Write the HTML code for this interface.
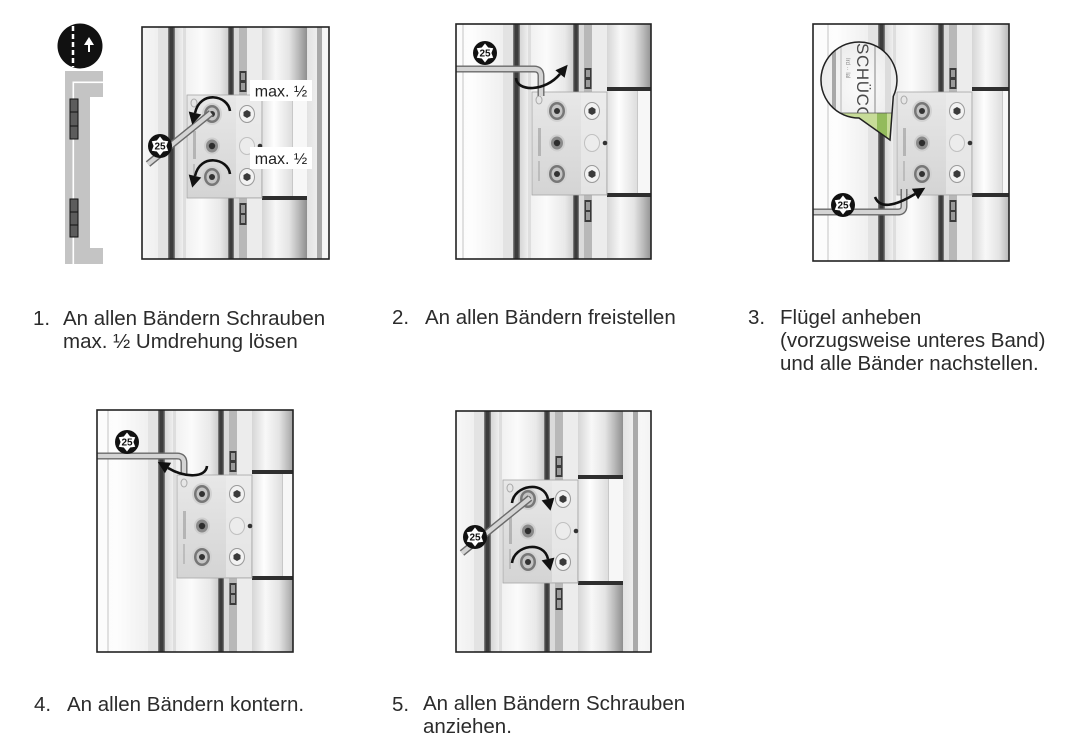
<!DOCTYPE html>
<html><head><meta charset="utf-8">
<style>
html,body{margin:0;padding:0;background:#fff;}
body{width:1081px;height:741px;position:relative;overflow:hidden;}
svg{position:absolute;left:0;top:0;}
.t{position:absolute;font-family:"Liberation Sans",Arial,sans-serif;font-size:20.5px;line-height:23px;color:#2b2b2b;white-space:nowrap;}
</style></head><body>
<svg width="1081" height="741" viewBox="0 0 1081 741" xmlns="http://www.w3.org/2000/svg">
<defs>
 <linearGradient id="gLeft" x1="0" y1="0" x2="1" y2="0"><stop offset="0" stop-color="#f9f9f9"/><stop offset="0.6" stop-color="#fdfdfd"/><stop offset="1" stop-color="#ebebeb"/></linearGradient>
 <linearGradient id="gDark" x1="0" y1="0" x2="1" y2="0"><stop offset="0" stop-color="#8a8a8a"/><stop offset="0.3" stop-color="#3c3c3c"/><stop offset="0.7" stop-color="#3c3c3c"/><stop offset="1" stop-color="#888"/></linearGradient>
 <linearGradient id="gProf" x1="0" y1="0" x2="1" y2="0"><stop offset="0" stop-color="#d6d6d6"/><stop offset="0.15" stop-color="#efefef"/><stop offset="0.5" stop-color="#fbfbfb"/><stop offset="0.85" stop-color="#e9e9e9"/><stop offset="1" stop-color="#cecece"/></linearGradient>
 <linearGradient id="gBar" x1="0" y1="0" x2="1" y2="0"><stop offset="0" stop-color="#d6d6d6"/><stop offset="0.3" stop-color="#f8f8f8"/><stop offset="0.6" stop-color="#e4e4e4"/><stop offset="0.8" stop-color="#bcbcbc"/><stop offset="1" stop-color="#8e8e8e"/></linearGradient>
 <linearGradient id="gBar2" x1="0" y1="0" x2="1" y2="0"><stop offset="0" stop-color="#e0e0e0"/><stop offset="0.4" stop-color="#fefefe"/><stop offset="1" stop-color="#dedede"/></linearGradient>
 <linearGradient id="gRight" x1="0" y1="0" x2="1" y2="0"><stop offset="0" stop-color="#e2e2e2"/><stop offset="0.3" stop-color="#f7f7f7"/><stop offset="1" stop-color="#e6e6e6"/></linearGradient>
 <linearGradient id="gPlate" x1="0" y1="0" x2="0" y2="1"><stop offset="0" stop-color="#e8e8e8"/><stop offset="1" stop-color="#d4d4d4"/></linearGradient>
 <radialGradient id="gMag" cx="0.5" cy="0.45" r="0.6"><stop offset="0" stop-color="#fbfbfb"/><stop offset="1" stop-color="#e6e6e6"/></radialGradient>
 <clipPath id="c1"><rect x="142" y="27" width="187" height="232"/></clipPath>
 <clipPath id="c2"><rect x="456" y="24" width="195" height="235"/></clipPath>
 <clipPath id="c3"><rect x="813" y="24" width="196" height="237"/></clipPath>
 <clipPath id="c4"><rect x="97" y="410" width="196" height="242"/></clipPath>
 <clipPath id="c5"><rect x="456" y="411" width="195" height="241"/></clipPath>
 <clipPath id="cMag"><path d="M 859,118 L 890,140 L 893.3,96.3 A 38 38 0 1 0 859,118 Z"/></clipPath>
 <g id="hinge">
  <rect x="-45" y="-10" width="300" height="265" fill="#f2f2f2"/>
  <rect x="-45" y="-10" width="102" height="265" fill="url(#gLeft)"/>
  <rect x="-30" y="-10" width="2" height="265" fill="#dcdcdc"/>
  <rect x="6" y="-10" width="2" height="265" fill="#e0e0e0"/>
  <rect x="47" y="-10" width="10" height="265" fill="#e3e3e3"/>
  <rect x="57" y="-10" width="7" height="265" fill="url(#gDark)"/>
  <rect x="64" y="-10" width="53" height="265" fill="url(#gProf)"/>
  <rect x="72" y="-10" width="3" height="265" fill="#dedede"/>
  <rect x="117" y="-10" width="6" height="265" fill="url(#gDark)"/>
  <rect x="123" y="-10" width="5" height="265" fill="#dadada"/>
  <rect x="128" y="-10" width="8" height="265" fill="#b8b8b8"/>
  <rect x="128.5" y="44" width="7" height="21" fill="#3a3a3a"/>
  <rect x="130" y="46" width="4" height="7" fill="#9a9a9a"/>
  <rect x="130" y="56" width="4" height="7" fill="#9a9a9a"/>
  <rect x="128.5" y="176" width="7" height="22" fill="#3a3a3a"/>
  <rect x="130" y="178" width="4" height="8" fill="#9a9a9a"/>
  <rect x="130" y="188" width="4" height="8" fill="#9a9a9a"/>
  <rect x="136" y="-10" width="15" height="265" fill="#ececec"/>
  <rect x="151" y="-10" width="45" height="73" fill="url(#gBar)"/>
  <rect x="151" y="173" width="45" height="82" fill="url(#gBar)"/>
  <rect x="151" y="67" width="30" height="102" fill="url(#gBar2)"/>
  <rect x="181" y="67" width="15" height="102" fill="#f7f7f7"/>
  <rect x="181" y="67" width="1" height="102" fill="#c8c8c8"/>
  <rect x="151" y="63" width="45" height="4" fill="#2e2e2e"/>
  <rect x="151" y="169" width="45" height="4" fill="#2e2e2e"/>
  <rect x="196" y="-10" width="60" height="265" fill="url(#gRight)"/>
  <rect x="206" y="-10" width="5" height="265" fill="#a9a9a9"/>
  <rect x="76" y="68" width="75" height="103" fill="url(#gPlate)" stroke="#a5a5a5" stroke-width="0.8"/>
  <rect x="125" y="69" width="25" height="101" fill="#efefef" opacity="0.6"/>
  <rect x="82" y="104" width="3" height="28" fill="#9a9a9a" opacity="0.6"/>
  <rect x="82" y="137" width="2" height="20" fill="#aaa" opacity="0.6"/>
  <ellipse cx="83" cy="76" rx="3" ry="4" fill="none" stroke="#aaa" stroke-width="1"/>
  <g transform="translate(101,87)"><ellipse rx="10" ry="11" fill="#d2d2d2"/><ellipse rx="8" ry="9" fill="#777"/><ellipse rx="5.5" ry="6.5" fill="#c4c4c4"/><circle r="3" fill="#333"/></g>
  <g transform="translate(101,119)"><ellipse rx="8" ry="8.5" fill="#cfcfcf"/><ellipse rx="6" ry="6.5" fill="#8a8a8a"/><circle r="3.2" fill="#2e2e2e"/></g>
  <g transform="translate(101,150)"><ellipse rx="10" ry="11" fill="#d2d2d2"/><ellipse rx="8" ry="9" fill="#777"/><ellipse rx="5.5" ry="6.5" fill="#c4c4c4"/><circle r="3" fill="#333"/></g>
  <g transform="translate(136,87)"><ellipse rx="7.5" ry="8.5" fill="#f2f2f2" stroke="#9a9a9a" stroke-width="1"/><polygon points="0,-4 3.5,-2 3.5,2 0,4 -3.5,2 -3.5,-2" fill="#3a3a3a"/></g>
  <g transform="translate(136,119)"><ellipse rx="7.5" ry="8.5" fill="#ececec" stroke="#c0c0c0" stroke-width="1"/></g>
  <g transform="translate(136,150)"><ellipse rx="7.5" ry="8.5" fill="#f2f2f2" stroke="#9a9a9a" stroke-width="1"/><polygon points="0,-4 3.5,-2 3.5,2 0,4 -3.5,2 -3.5,-2" fill="#3a3a3a"/></g>
  <circle cx="149" cy="119" r="2.3" fill="#333"/>
 </g>
 <g id="badge"><circle r="12" fill="#111"/><polygon points="0,-9.5 3.2,-5.5 8.23,-4.75 6.4,0 8.23,4.75 3.2,5.5 0,9.5 -3.2,5.5 -8.23,4.75 -6.4,0 -8.23,-4.75 -3.2,-5.5" fill="#fff"/></g>
</defs>

<!-- Left strip icon -->
<circle cx="80" cy="46" r="22.5" fill="#111"/>
<line x1="73" y1="26" x2="73" y2="67" stroke="#fff" stroke-width="2.5" stroke-dasharray="5,3"/>
<polygon points="89,37 84,45 94,45" fill="#fff"/>
<rect x="88" y="44" width="2" height="8" fill="#fff"/>
<rect x="65" y="71" width="38" height="193" fill="#c4c4c4"/>
<rect x="90" y="97" width="13" height="151" fill="#fff"/>
<rect x="72.5" y="81.5" width="1.6" height="183" fill="#fff"/>
<rect x="72.5" y="81.5" width="30.5" height="1.6" fill="#fff"/>
<g fill="#5c5c5c" stroke="#111" stroke-width="1">
 <rect x="70" y="99" width="8" height="40"/>
 <rect x="70" y="199" width="8" height="38"/>
</g>
<g stroke="#111" stroke-width="1">
 <line x1="70" y1="112" x2="78" y2="112"/><line x1="70" y1="126" x2="78" y2="126"/>
 <line x1="70" y1="212" x2="78" y2="212"/><line x1="70" y1="225" x2="78" y2="225"/>
</g>

<!-- Panel 1 -->
<g clip-path="url(#c1)">
 <use href="#hinge" transform="translate(111,27)"/>
 <path d="M 148,164 L 211,113" fill="none" stroke="#6a6a6a" stroke-width="7"/>
 <path d="M 148,164 L 211,113" fill="none" stroke="#d4d4d4" stroke-width="4.2"/>
 <use href="#badge" transform="translate(160,146)"/>
 <text x="160" y="149.6" text-anchor="middle" font-size="10" font-weight="bold" fill="#111" font-family="Liberation Sans, Arial, sans-serif">25</text>
 <path d="M 230,111 C 228,95 200,90 195,113" fill="none" stroke="#111" stroke-width="2.6"/>
 <polygon points="192.2,124.6 201.3,114.5 188.7,111.5" fill="#111"/>
 <path d="M 230,174 C 228,158 200,153 195,176" fill="none" stroke="#111" stroke-width="2.6"/>
 <polygon points="192.2,187.6 201.3,177.5 188.7,174.5" fill="#111"/>
 <rect x="250" y="80" width="62" height="21" fill="#fff"/>
 <text x="281" y="96.5" text-anchor="middle" font-size="16" fill="#222" font-family="Liberation Sans, Arial, sans-serif">max. ½</text>
 <rect x="250" y="147" width="62" height="22" fill="#fff"/>
 <text x="281" y="164" text-anchor="middle" font-size="16" fill="#222" font-family="Liberation Sans, Arial, sans-serif">max. ½</text>
</g>
<rect x="142" y="27" width="187" height="232" fill="none" stroke="#222" stroke-width="1.6"/>

<!-- Panel 2 -->
<g clip-path="url(#c2)">
 <use href="#hinge" transform="translate(456,24)"/>
 <path d="M 456,69 H 534 Q 541,69 541,76 V 96" fill="none" stroke="#6a6a6a" stroke-width="7"/>
 <path d="M 456,69 H 534 Q 541,69 541,76 V 96" fill="none" stroke="#d4d4d4" stroke-width="4.2"/>
 <use href="#badge" transform="translate(485,53)"/>
 <text x="485" y="56.6" text-anchor="middle" font-size="10" font-weight="bold" fill="#111" font-family="Liberation Sans, Arial, sans-serif">25</text>
 <path d="M 516,78 C 517,92 545,92 560,74" fill="none" stroke="#111" stroke-width="2.6"/>
 <polygon points="567.7,64.8 564.6,77.8 555.4,70.2" fill="#111"/>
</g>
<rect x="456" y="24" width="195" height="235" fill="none" stroke="#222" stroke-width="1.6"/>

<!-- Panel 3 -->
<g clip-path="url(#c3)">
 <use href="#hinge" transform="translate(821,24)"/>
 <path d="M 813,212 H 898 Q 904,212 904,206 V 189" fill="none" stroke="#6a6a6a" stroke-width="7"/>
 <path d="M 813,212 H 898 Q 904,212 904,206 V 189" fill="none" stroke="#d4d4d4" stroke-width="4.2"/>
 <use href="#badge" transform="translate(843,205)"/>
 <text x="843" y="208.6" text-anchor="middle" font-size="10" font-weight="bold" fill="#111" font-family="Liberation Sans, Arial, sans-serif">25</text>
 <path d="M 875,197 Q 882,214 915,194" fill="none" stroke="#111" stroke-width="2.6"/>
 <polygon points="925.3,187.8 918.1,199.2 911.9,188.8" fill="#111"/>
 <!-- magnifier -->
 <g clip-path="url(#cMag)">
  <rect x="815" y="38" width="90" height="105" fill="url(#gMag)"/>
  <rect x="832" y="38" width="4" height="80" fill="#a8a8a8"/>
  <rect x="840" y="38" width="2" height="80" fill="#d4d4d4"/>
  <rect x="874" y="38" width="2" height="80" fill="#bdbdbd"/>
  <rect x="885" y="38" width="6" height="80" fill="#dcdcdc"/>
  <text transform="translate(857,43) rotate(90)" font-size="17" letter-spacing="0.6" fill="#4a4a4a" font-family="Liberation Sans, Arial, sans-serif">SCHÜCO</text>
  <text transform="translate(846,58) rotate(90)" font-size="6" fill="#8a8a8a" font-family="Liberation Sans, Arial, sans-serif">Ird ·· lal</text>
  <rect x="815" y="113" width="90" height="32" fill="#c7dc98"/>
  <rect x="877" y="113" width="10" height="32" fill="#93bb5c"/>
  <line x1="815" y1="113" x2="905" y2="113" stroke="#555" stroke-width="0.8"/>
 </g>
 <path d="M 859,118 L 890,140 L 893.3,96.3 A 38 38 0 1 0 859,118 Z" fill="none" stroke="#222" stroke-width="1.5"/>
</g>
<rect x="813" y="24" width="196" height="237" fill="none" stroke="#222" stroke-width="1.6"/>

<!-- Panel 4 -->
<g clip-path="url(#c4)">
 <use href="#hinge" transform="translate(101,407)"/>
 <path d="M 97,456 H 177 Q 184,456 184,463 V 474" fill="none" stroke="#6a6a6a" stroke-width="7"/>
 <path d="M 97,456 H 177 Q 184,456 184,463 V 474" fill="none" stroke="#d4d4d4" stroke-width="4.2"/>
 <use href="#badge" transform="translate(127,442)"/>
 <text x="127" y="445.6" text-anchor="middle" font-size="10" font-weight="bold" fill="#111" font-family="Liberation Sans, Arial, sans-serif">25</text>
 <path d="M 207,466 C 206,478 185,478 168,468" fill="none" stroke="#111" stroke-width="2.6"/>
 <polygon points="157.7,461.9 171.1,462.8 164.9,473.2" fill="#111"/>
</g>
<rect x="97" y="410" width="196" height="242" fill="none" stroke="#222" stroke-width="1.6"/>

<!-- Panel 5 -->
<g clip-path="url(#c5)">
 <use href="#hinge" transform="translate(427,412)"/>
 <path d="M 462,553 L 530,498" fill="none" stroke="#6a6a6a" stroke-width="7"/>
 <path d="M 462,553 L 530,498" fill="none" stroke="#d4d4d4" stroke-width="4.2"/>
 <use href="#badge" transform="translate(475,537)"/>
 <text x="475" y="540.6" text-anchor="middle" font-size="10" font-weight="bold" fill="#111" font-family="Liberation Sans, Arial, sans-serif">25</text>
 <path d="M 512,503 C 514,485 544,480 548,499" fill="none" stroke="#111" stroke-width="2.6"/>
 <polygon points="550.5,510.8 554.4,497.6 541.6,500.4" fill="#111"/>
 <path d="M 512,563 C 514,545 544,540 548,559" fill="none" stroke="#111" stroke-width="2.6"/>
 <polygon points="550.5,570.8 554.4,557.6 541.6,560.4" fill="#111"/>
</g>
<rect x="456" y="411" width="195" height="241" fill="none" stroke="#222" stroke-width="1.6"/>
</svg>

<div class="t" style="left:33px;top:307px">1.</div>
<div class="t" style="left:63px;top:307px">An allen Bändern Schrauben<br>max. ½ Umdrehung lösen</div>
<div class="t" style="left:392px;top:306px">2.</div>
<div class="t" style="left:425px;top:306px">An allen Bändern freistellen</div>
<div class="t" style="left:748px;top:306px">3.</div>
<div class="t" style="left:780px;top:306px">Flügel anheben<br>(vorzugsweise unteres Band)<br>und alle Bänder nachstellen.</div>
<div class="t" style="left:34px;top:693px">4.</div>
<div class="t" style="left:67px;top:693px">An allen Bändern kontern.</div>
<div class="t" style="left:392px;top:693px">5.</div>
<div class="t" style="left:423px;top:693px;line-height:22.5px">An allen Bändern Schrauben<br>anziehen.</div>
</body></html>
